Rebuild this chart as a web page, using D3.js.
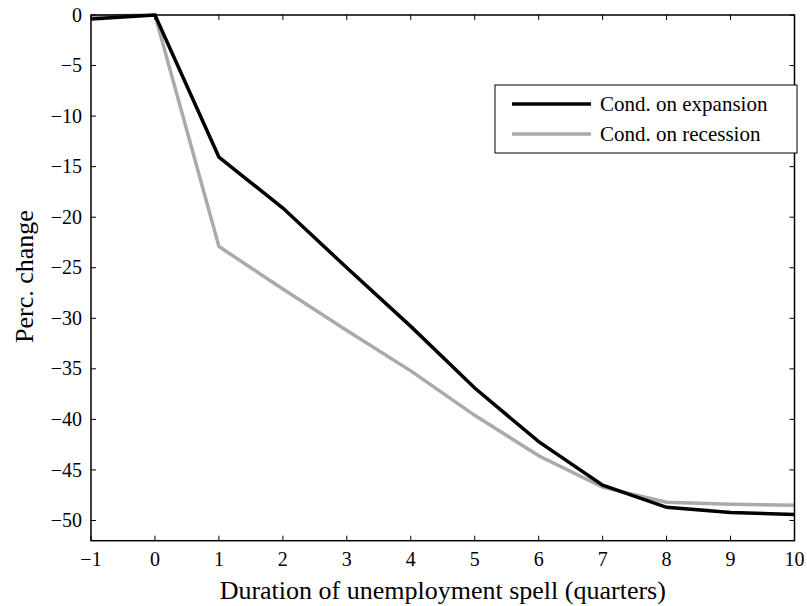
<!DOCTYPE html>
<html><head><meta charset="utf-8">
<script src="https://cdn.jsdelivr.net/npm/d3@7"></script>
<style>body{margin:0;background:#fff}svg{display:block}text{font-family:"Liberation Serif","DejaVu Serif",serif;fill:#000}</style>
</head><body>
<svg id="c" width="807" height="606"></svg>
<script>
const quarters = [-1,0,1,2,3,4,5,6,7,8,9,10];
const expansion = [-0.4,0,-14.05,-19.1,-25.0,-30.8,-36.9,-42.2,-46.5,-48.7,-49.2,-49.4];
const recession = [-0.1,0,-22.9,-27.1,-31.2,-35.2,-39.6,-43.6,-46.7,-48.2,-48.4,-48.5];
const xTicks = [-1,0,1,2,3,4,5,6,7,8,9,10];
const yTicks = [0,-5,-10,-15,-20,-25,-30,-35,-40,-45,-50];
const seriesNames = ["Cond. on expansion","Cond. on recession"];
const seriesColors = ["#000000","#aaaaaa"];

const svg = d3.select("#c");
const L=91, R=794.5, T=15, B=540.7;
const x = d3.scaleLinear().domain([-1,10]).range([L,R]);
const y = d3.scaleLinear().domain([-52,0]).range([B,T]);
const fmt = d3.format("d");

// lines
const line = d3.line().x((d,i)=>x(quarters[i])).y(d=>y(d));
[recession, expansion].forEach((s,k)=>{
  const idx = k===0?1:0;
  svg.append("path").attr("d",line(s)).attr("fill","none")
    .attr("stroke",seriesColors[idx]).attr("stroke-width",3.5).attr("stroke-linejoin","miter");
});

// axes frame
const g = svg.append("g");
g.append("rect").attr("x",L).attr("y",T).attr("width",R-L).attr("height",B-T)
  .attr("fill","none").attr("stroke","#000").attr("stroke-width",1.5);
const tl=5;
xTicks.forEach(t=>{
  g.append("line").attr("x1",x(t)).attr("x2",x(t)).attr("y1",B).attr("y2",B-tl).attr("stroke","#000").attr("stroke-width",1);
  g.append("line").attr("x1",x(t)).attr("x2",x(t)).attr("y1",T).attr("y2",T+tl).attr("stroke","#000").attr("stroke-width",1);
  g.append("text").attr("x",x(t)).attr("y",566).attr("text-anchor","middle").attr("font-size",20).text(fmt(t));
});
yTicks.forEach(t=>{
  g.append("line").attr("x1",L).attr("x2",L+tl).attr("y1",y(t)).attr("y2",y(t)).attr("stroke","#000").attr("stroke-width",1);
  g.append("line").attr("x1",R).attr("x2",R-tl).attr("y1",y(t)).attr("y2",y(t)).attr("stroke","#000").attr("stroke-width",1);
  g.append("text").attr("x",82).attr("y",y(t)).attr("dy","0.33em").attr("text-anchor","end").attr("font-size",20).text(fmt(t));
});

svg.append("text").attr("x",(L+R)/2).attr("y",599).attr("text-anchor","middle").attr("font-size",26)
  .text("Duration of unemployment spell (quarters)");
svg.append("text").attr("transform",`translate(33,276.5) rotate(-90)`).attr("text-anchor","middle").attr("font-size",26)
  .text("Perc. change");

// legend
const lg = svg.append("g");
lg.append("rect").attr("x",495).attr("y",85).attr("width",302).attr("height",68)
  .attr("fill","#fff").attr("stroke","#000").attr("stroke-width",1);
seriesNames.forEach((n,i)=>{
  const yy = 104 + i*30;
  lg.append("line").attr("x1",512).attr("x2",591).attr("y1",yy).attr("y2",yy)
    .attr("stroke",seriesColors[i]).attr("stroke-width",3.5);
  lg.append("text").attr("x",600).attr("y",yy).attr("dy","0.33em").attr("font-size",21).text(n);
});
</script>
</body></html>
